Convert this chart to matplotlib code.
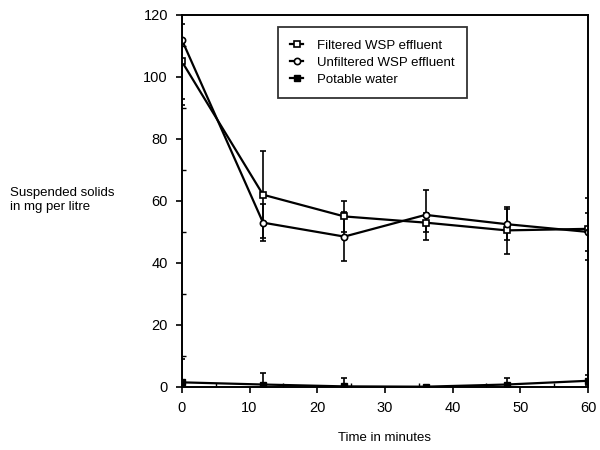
import matplotlib
matplotlib.use("Agg")
import matplotlib.pyplot as plt
from matplotlib.lines import Line2D
from matplotlib.ticker import MultipleLocator

plt.rcParams['font.family'] = ['Liberation Sans', 'DejaVu Sans']

time_min = [0, 12, 24, 36, 48, 60]
filtered = [105, 62, 55, 53, 50.5, 51]
filtered_err = [12, 14, 5, 3, 7.5, 10]
unfiltered = [112, 53, 48.5, 55.5, 52.5, 50]
unfiltered_err = [21, 6, 8, 8, 5, 6]
potable = [1.5, 0.8, 0.2, 0.1, 0.8, 2.0]
potable_err = [7.5, 3.8, 2.6, 0.3, 2.0, 1.8]
labels = ['Filtered WSP effluent', 'Unfiltered WSP effluent', 'Potable water']

fig = plt.figure(figsize=(6, 4.5), dpi=100)
ax = fig.add_axes([0.303, 0.14, 0.677, 0.827])

common = dict(color='black', lw=1.6, capsize=2.5, elinewidth=1.2, capthick=1.2)
styles = [
    dict(marker='s', ms=5, mfc='white', mec='black', mew=1.2),
    dict(marker='o', ms=4.5, mfc='white', mec='black', mew=1.2),
    dict(marker='s', ms=5, mfc='black', mec='black'),
]
series = [(filtered, filtered_err), (unfiltered, unfiltered_err), (potable, potable_err)]
for (vals, errs), st in zip(series, styles):
    ax.errorbar(time_min, vals, yerr=errs, **st, **common)

ax.set_xlim(0, 60)
ax.set_ylim(0, 120)
ax.xaxis.set_major_locator(MultipleLocator(10))
ax.xaxis.set_minor_locator(MultipleLocator(5))
ax.yaxis.set_major_locator(MultipleLocator(20))
ax.yaxis.set_minor_locator(MultipleLocator(10))
ax.tick_params(which='major', direction='out', length=4, width=1.2, labelsize=10.5, pad=6)
ax.tick_params(which='minor', direction='in', length=3, width=1)
for s in ax.spines.values():
    s.set_linewidth(1.4)

ax.set_xlabel('Time in minutes', fontsize=9.5, labelpad=12)
fig.text(0.017, 0.555, 'Suspended solids\nin mg per litre', fontsize=9.5,
         ha='left', va='center', linespacing=1.2)

handles = [Line2D([], [], color='black', lw=1.6, **st) for st in styles]
leg = ax.legend(handles, labels, loc='upper left', bbox_to_anchor=(0.22, 0.985),
                fontsize=9.5, frameon=True, fancybox=False, edgecolor='black',
                handlelength=1.0, handletextpad=1.0, borderpad=0.95, labelspacing=0.35)
leg.get_frame().set_linewidth(1.3)

fig.savefig('out.png', dpi=100)
